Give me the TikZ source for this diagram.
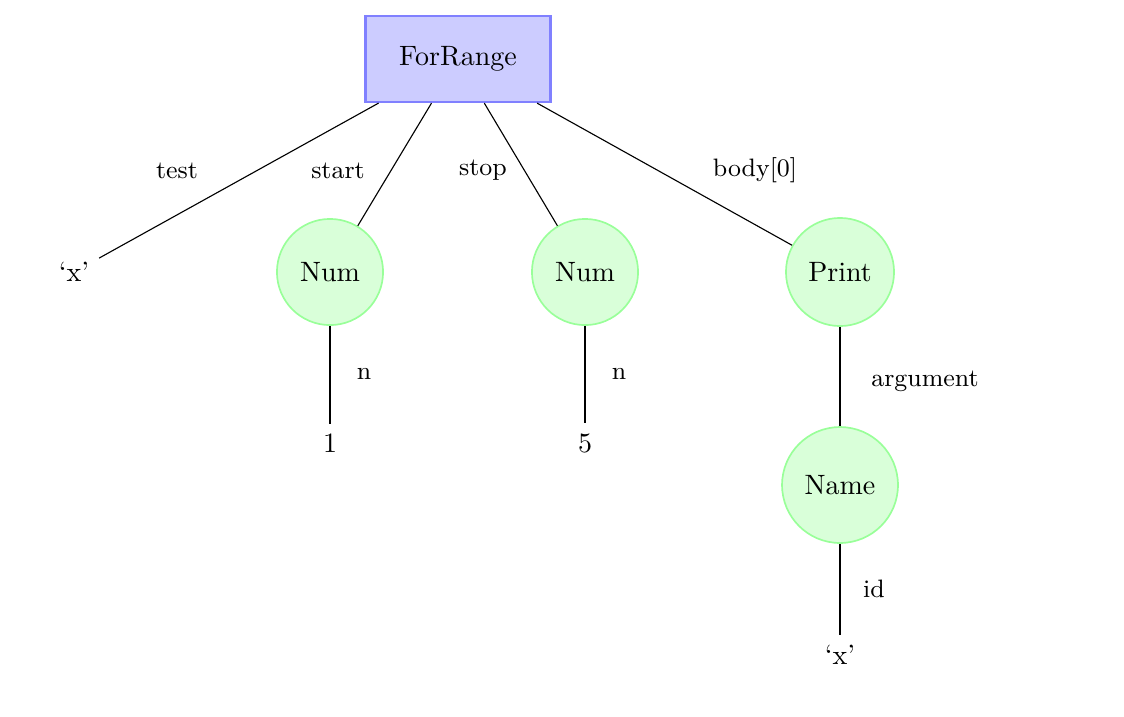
\documentclass[tikz,border=0pt]{standalone}
\begin{document}
\begin{tikzpicture}[x=0.3571pt,y=-0.3571pt,
  boxnode/.style={rectangle, draw=blue!50, fill=blue!20, thick, minimum width=66pt, minimum height=30.7pt, inner sep=0pt},
  astnode/.style={circle, draw=green!40, fill=green!15, semithick, inner sep=0pt},
  leafnode/.style={},
  edgelabel/.style={font=\small},
  edgeline/.style={draw=black, thin}]
\useasboundingbox (0,0) rectangle (1124,716);
\node[boxnode] (root) at (458,59) {ForRange};
\node[leafnode] (x1) at (74,272) {`x'};
\node[astnode, minimum size=37.9pt] (num1) at (330,272) {Num};
\node[astnode, minimum size=37.9pt] (num2) at (585,272) {Num};
\node[astnode, minimum size=38.6pt] (print) at (840,272) {Print};
\node[leafnode] (one) at (330,443) {1};
\node[leafnode] (five) at (585,443) {5};
\node[astnode, minimum size=41.4pt] (name) at (840,485) {Name};
\node[leafnode] (x2) at (840,655) {`x'};
\draw[edgeline] (root) -- (x1);
\draw[edgeline] (root) -- (num1);
\draw[edgeline] (root) -- (num2);
\draw[edgeline] (root) -- (print);
\draw[edgeline] (num1) -- (one);
\draw[edgeline] (num2) -- (five);
\draw[edgeline] (print) -- (name);
\draw[edgeline] (name) -- (x2);
\node[edgelabel] (ltest) at (177,171) {test};
\node[edgelabel] (lstart) at (338,171) {start};
\node[edgelabel] (lstop) at (483,170) {stop};
\node[edgelabel] (lbody) at (755,170) {body[0]};
\node[edgelabel] (ln1) at (364,374) {n};
\node[edgelabel] (ln2) at (619,374) {n};
\node[edgelabel] (larg) at (925,381) {argument};
\node[edgelabel] (lid) at (874,589) {id};
\end{tikzpicture}
\end{document}
